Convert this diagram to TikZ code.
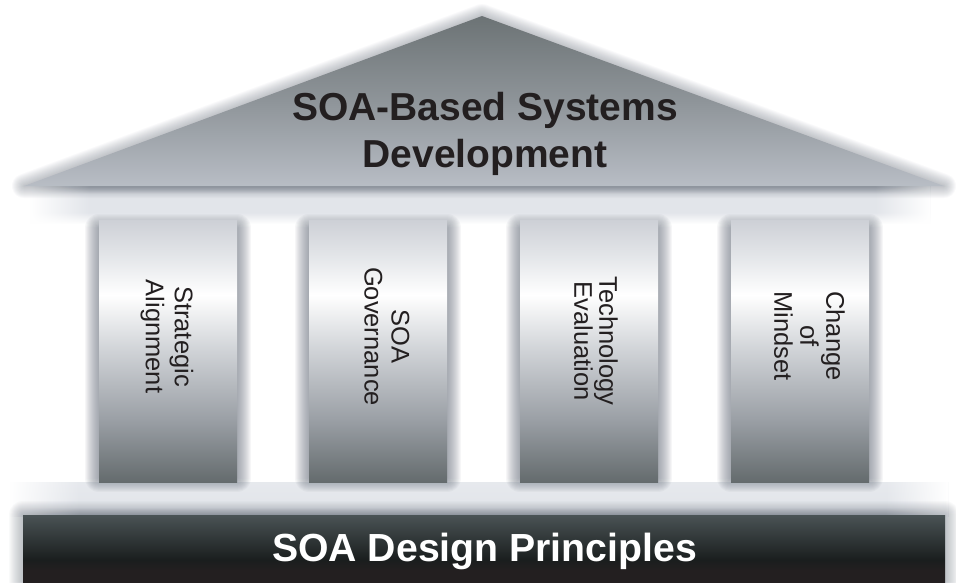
\documentclass[tikz,border=0pt]{standalone}
\usepackage{fontspec}
\usetikzlibrary{fadings}
\setmainfont{Liberation Sans}
\definecolor{glowc}{HTML}{6E7682}
\definecolor{pilA}{HTML}{CDD0D6}
\definecolor{pilB}{HTML}{E6E8EB}
\definecolor{pilC}{HTML}{FFFFFF}
\definecolor{pilD}{HTML}{D0D3D7}
\definecolor{pilE}{HTML}{9A9FA5}
\definecolor{pilF}{HTML}{646B6D}
\definecolor{barA}{HTML}{4A5355}
\definecolor{barB}{HTML}{1A1E1E}
\definecolor{barC}{HTML}{231F20}
\definecolor{roofA}{HTML}{6C7375}
\definecolor{roofB}{HTML}{B8BDC5}
\definecolor{bandA}{HTML}{A3A8B0}
\definecolor{bandB}{HTML}{E2E5EA}
\definecolor{inkc}{HTML}{231F20}
\pgfdeclareverticalshading{pillarshade}{100bp}{color(0bp)=(pilF); color(25bp)=(pilF); color(36.8bp)=(pilE); color(50.2bp)=(pilD); color(60.7bp)=(pilC); color(67.4bp)=(pilB); color(75bp)=(pilA); color(100bp)=(pilA)}
\pgfdeclareverticalshading{barshade}{100bp}{color(0bp)=(barC); color(34bp)=(barC); color(41.5bp)=(barB); color(75bp)=(barA); color(100bp)=(barA)}
\pgfdeclareverticalshading{bandshade}{100bp}{color(0bp)=(white); color(25bp)=(white); color(40bp)=(bandB); color(65bp)=(bandB); color(75bp)=(bandA); color(100bp)=(bandA)}
\pgfdeclareverticalshading{bandlowshade}{100bp}{color(0bp)=(bandA); color(25bp)=(bandA); color(38bp)=(bandB); color(75bp)=(bandB!85!white); color(100bp)=(white)}
\tikzset{
  softglow/.style={draw=glowc, opacity=#1, line join=round},
  pillarbox/.style={shading=pillarshade},
  pillartext/.style={rotate=-90, align=center, text=inkc, font=\fontsize{25.5}{#1}\selectfont},
  rooftext/.style={align=center, text=inkc, font=\fontsize{39}{46.5}\selectfont\bfseries},
  bartext/.style={text=white, font=\fontsize{39.2}{44}\selectfont\bfseries}
}
\newcommand{\softrect}[5]{%
  \foreach \w in {2,4,...,28}{\draw[softglow=#5, line width=\w pt] (#1,#2) rectangle (#3,#4);}}
\begin{document}
\begin{tikzpicture}[x=1pt,y=-1pt]
\useasboundingbox (0,0) rectangle (956,582);
\clip (0,0) rectangle (956,582);
\fill[white] (0,0) rectangle (956,582);
% bands behind the pillars
\shade[shading=bandshade] (30,186) rectangle (930,224);
\shade[shading=bandlowshade] (10,482) rectangle (948,516);
\fill[white, path fading=east] (30,186) rectangle (90,224);
\fill[white, path fading=west] (875,186) rectangle (930,224);
\fill[white, path fading=east] (10,482) rectangle (80,518);
\fill[white, path fading=west] (885,482) rectangle (948,518);
% roof
\coordinate (apex) at (482,16);
\coordinate (eaveL) at (24,186);
\coordinate (eaveR) at (944,186);
\foreach \w in {2,4,...,24}{\draw[softglow=.04, line width=\w pt] (apex) -- (eaveR) -- (eaveL) -- cycle;}
\shade[top color=roofA, bottom color=roofB, middle color=roofA!55!roofB] (apex) -- (eaveR) -- (eaveL) -- cycle;
% pillars
\softrect{99}{228}{237}{478}{.06}
\softrect{309}{228}{447}{478}{.06}
\softrect{520}{228}{658}{478}{.06}
\softrect{731}{228}{869}{478}{.06}
\shade[pillarbox] (99,220) rectangle (237,482);
\shade[pillarbox] (309,220) rectangle (447,482);
\shade[pillarbox] (520,220) rectangle (658,482);
\shade[pillarbox] (731,220) rectangle (869,482);
% base
\softrect{23}{515}{945}{590}{.035}
\shade[shading=barshade] (23,515) rectangle (945,582);
% labels
\node[rooftext] (roofl) at (485,134) {SOA-Based Systems\\Development};
\node[pillartext=29] (p1) at (167,336.5) {Strategic\\Alignment};
\node[pillartext=27] (p2) at (387,336.5) {SOA\\Governance};
\node[pillartext=25] (p3) at (596,341) {Technology\\Evaluation};
\node[pillartext=26] (p4) at (809.5,336) {Change\\of\\Mindset};
\node[bartext] (base) at (484.5,551) {SOA Design Principles};
\end{tikzpicture}
\end{document}
